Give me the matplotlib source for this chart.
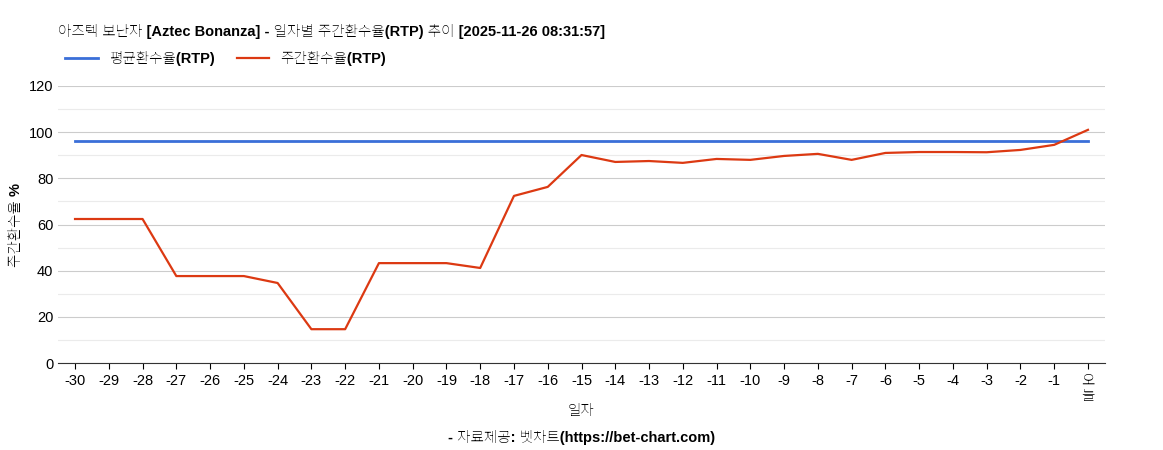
import matplotlib.pyplot as plt

plt.rcParams['font.family'] = ['Liberation Sans', 'Noto Sans KR', 'Noto Sans CJK KR', 'DejaVu Sans']

days = list(range(-30, 1))
tick_labels = [str(d) for d in range(-30, 0)] + ['오\n늘']
avg_rtp = [96.2] * len(days)
weekly_rtp = [62.4, 62.4, 62.4, 37.7, 37.7, 37.7, 34.7, 14.7, 14.7, 43.3,
              43.3, 43.3, 41.2, 72.4, 76.3, 90.1, 87.1, 87.5, 86.7, 88.4,
              88.0, 89.7, 90.6, 88.0, 91.0, 91.4, 91.4, 91.3, 92.3, 94.5, 101.0]

fig = plt.figure(figsize=(11.63, 4.5), dpi=100)
ax = fig.add_axes([0.05, 0.193, 0.9, 0.616])

ax.plot(days, avg_rtp, color='#3a6fd8', lw=2, label='평균환수율(RTP)')
ax.plot(days, weekly_rtp, color='#dc3912', lw=1.6, label='주간환수율(RTP)')

ax.set_xlim(-30.5, 0.5)
ax.set_ylim(0, 120)
ax.set_yticks(range(0, 121, 20))
ax.set_yticks(range(10, 120, 20), minor=True)
ax.tick_params(axis='y', which='minor', length=0)
ax.grid(axis='y', which='major', color='#cccccc', lw=0.8)
ax.grid(axis='y', which='minor', color='#ebebeb', lw=0.8)
ax.set_axisbelow(True)
ax.set_xticks(days)
ax.set_xticklabels(tick_labels, fontsize=10.5, linespacing=1.1)
ax.tick_params(axis='y', labelsize=10.5, length=0)
ax.tick_params(axis='x', length=4)
for s in ['top', 'right', 'left']:
    ax.spines[s].set_visible(False)
ax.spines['bottom'].set_color('#333333')

ax.set_ylabel('주간환수율 %', fontsize=10.5, fontweight='bold')
fig.text(0.5, 0.078, '일자', ha='center', fontsize=10.5, fontweight='bold')
fig.text(0.5, 0.018, '- 자료제공: 벳차트(https://bet-chart.com)', ha='center',
         fontsize=10.5, fontweight='bold')

fig.text(0.05, 0.92, '아즈텍 보난자 [Aztec Bonanza] - 일자별 주간환수율(RTP) 추이 [2025-11-26 08:31:57]',
         fontsize=10.5, fontweight='bold')
fig.legend(loc='upper left', bbox_to_anchor=(0.045, 0.915), ncol=2, frameon=False,
           prop={'size': 10.5, 'weight': 'bold'}, handlelength=2.2, columnspacing=1.5)

fig.savefig('out.png')
